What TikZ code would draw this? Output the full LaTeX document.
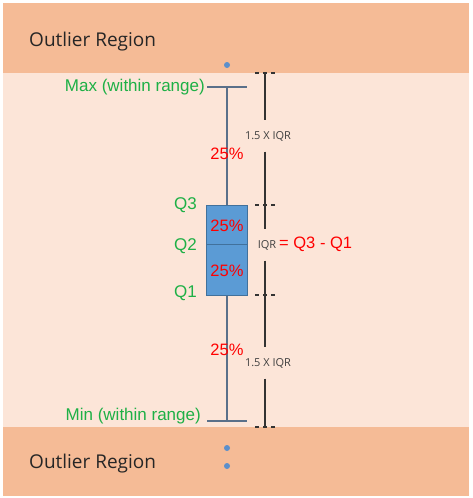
\documentclass[tikz,border=0pt]{standalone}
\usepackage{fontspec}
\setmainfont{Liberation Sans}
\newfontfamily\segoe{Open Sans}
\definecolor{outcolor}{RGB}{245,187,150}
\definecolor{incolor}{RGB}{252,229,216}
\definecolor{boxblue}{RGB}{91,155,213}
\definecolor{boxedge}{RGB}{65,113,156}
\definecolor{whiskcol}{RGB}{90,112,138}
\definecolor{dotblue}{RGB}{91,143,204}
\definecolor{qgreen}{RGB}{30,176,70}
\begin{document}
\begin{tikzpicture}[x=1pt, y=-1pt,
  region/.style={font=\segoe\fontsize{19}{19}\selectfont, text=black!85, anchor=west, inner sep=0pt},
  qlabel/.style={font=\fontsize{17}{17}\selectfont, text=qgreen, anchor=east, inner sep=0pt},
  pct/.style={font=\fontsize{16.5}{16.5}\selectfont, text=red, inner sep=0pt},
  dimlabel/.style={font=\segoe\fontsize{11}{11}\selectfont, text=black!75, inner sep=0pt, minimum height=31pt},
  outlier/.style={circle, fill=dotblue, inner sep=0pt, minimum size=6pt},
  whisker/.style={draw=whiskcol, line width=1.5pt},
  dimline/.style={draw=black!80, line width=1.3pt},
  tickmark/.style={draw=black!80, line width=1.3pt, dash pattern=on 4pt off 4pt}]

  \useasboundingbox (0,0) rectangle (472,498);

  % Regions
  \fill [white] (0,0) rectangle (472,498);
  \fill [outcolor] (3,3) rectangle (469,73);
  \fill [incolor] (3,73) rectangle (469,427);
  \fill [outcolor] (3,427) rectangle (469,496);
  \node [region] (upreg) at (29,42) {Outlier Region};
  \node [region] (lowreg) at (29,464) {Outlier Region};

  % Outliers
  \node [outlier] (out1) at (227,65) {};
  \node [outlier] (out2) at (227,448) {};
  \node [outlier] (out3) at (227,466) {};

  % Whiskers
  \coordinate (maxl) at (207,87);
  \coordinate (maxr) at (247,87);
  \coordinate (minl) at (207,421);
  \coordinate (minr) at (247,421);
  \draw [whisker] (maxl) -- (maxr);
  \draw [whisker] (minl) -- (minr);
  \draw [whisker] (227,87) -- (227,421);

  % Box
  \draw [fill=boxblue, draw=boxedge, line width=1pt] (206,205) rectangle (247,295);
  \draw [boxedge, line width=1pt] (206,244) -- (247,244);

  % Labels
  \node [qlabel] (maxlab) at (205,87) {Max (within range)};
  \node [qlabel] (minlab) at (201,416) {Min (within range)};
  \node [qlabel] (q3) at (197,205) {Q3};
  \node [qlabel] (q2) at (197,246) {Q2};
  \node [qlabel] (q1) at (197,293) {Q1};
  \node [pct] (p4) at (227,154) {25\%};
  \node [pct] (p3) at (227,226) {25\%};
  \node [pct] (p2) at (227,271) {25\%};
  \node [pct] (p1) at (227,350) {25\%};

  % Range marks
  \coordinate (t1) at (265,73);
  \coordinate (t2) at (265,205);
  \coordinate (t3) at (265,295);
  \coordinate (t4) at (265,427);
  \draw [tickmark] (255,73) -- (276,73);
  \draw [tickmark] (255,205) -- (276,205);
  \draw [tickmark] (255,295) -- (276,295);
  \draw [tickmark] (255,427) -- (276,427);
  \node [dimlabel] (upiqr) at (268,136) {1.5 X IQR};
  \node [dimlabel] (iqr) at (267,245) {IQR};
  \node [dimlabel] (lowiqr) at (268,363) {1.5 X IQR};
  \draw [dimline] (t1) -- (upiqr.north -| t1);
  \draw [dimline] (upiqr.south -| t1) -- (iqr.north -| t1);
  \draw [dimline] (iqr.south -| t1) -- (lowiqr.north -| t1);
  \draw [dimline] (lowiqr.south -| t1) -- (t4);
  \node [pct, anchor=west] (iqrdef) at (279,244) {= Q3 - Q1};
\end{tikzpicture}
\end{document}
